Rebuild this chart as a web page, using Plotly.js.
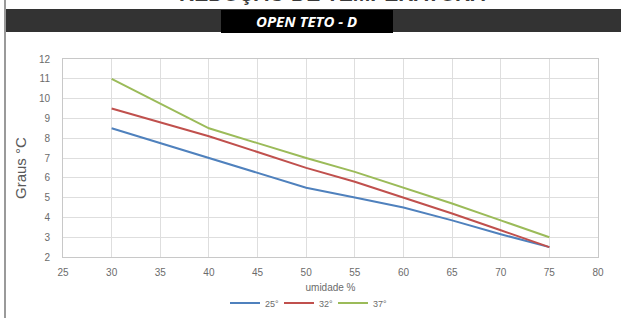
<!DOCTYPE html>
<html>
<head>
<meta charset="utf-8">
<script src="https://cdn.plot.ly/plotly-3.0.1.min.js"></script>
<style>html,body{margin:0;padding:0;background:#fff;}#chart{width:621px;height:318px;}</style>
</head>
<body>
<div id="chart"></div>
<script>
// Data
const humidity = [30, 35, 40, 45, 50, 55, 60, 65, 70, 75];
const series25 = [8.5, 7.75, 7.0, 6.25, 5.5, 5.0, 4.5, 3.85, 3.15, 2.5];
const series32 = [9.5, 8.8, 8.1, 7.3, 6.5, 5.8, 5.0, 4.2, 3.35, 2.5];
const series37 = [11.0, 9.75, 8.5, 7.75, 7.0, 6.3, 5.5, 4.7, 3.85, 3.0];
const seriesNames = ['25°', '32°', '37°'];
const seriesColors = ['#4F81BD', '#C0504D', '#9BBB59'];
const xTicks = [25, 30, 35, 40, 45, 50, 55, 60, 65, 70, 75, 80];
const yTicks = [2, 3, 4, 5, 6, 7, 8, 9, 10, 11, 12];
const topTitle = 'REDUÇÃO DE TEMPERATURA';
const subTitle = 'OPEN TETO - D';
const yTitle = 'Graus °C';
const xTitle = 'umidade %';

const W = 621, H = 318;
const L = 63, R = 23, T = 59, B = 61;
const pw = W - L - R, ph = H - T - B;
const px = v => (v - L) / pw;          // pixel x -> paper
const py = v => (H - B - v) / ph;      // pixel y -> paper

const allSeries = [series25, series32, series37];
const traces = allSeries.map((s, i) => ({
  x: humidity, y: s, type: 'scatter', mode: 'lines', name: seriesNames[i],
  line: {color: seriesColors[i], width: 2}
}));

const narrow = 'Liberation Sans Narrow, Liberation Sans, Arial, sans-serif';
const tickFont = {family: narrow, size: 10, color: '#6b6b6b'};

const layout = {
  width: W, height: H,
  margin: {l: L, r: R, t: T, b: B, pad: 0, autoexpand: false},
  paper_bgcolor: '#ffffff', plot_bgcolor: '#ffffff',
  showlegend: true,
  legend: {orientation: 'h', x: px(306), xanchor: 'center', y: py(303), yanchor: 'middle',
    font: {family: narrow, size: 9, color: '#6b6b6b'},
    entrywidth: 9, entrywidthmode: 'pixels',
    itemwidth: 30, tracegroupgap: 0, bgcolor: 'rgba(0,0,0,0)'},
  xaxis: {range: [25, 80], tickvals: xTicks, ticktext: xTicks.map(String), automargin: false,
    showgrid: true, gridcolor: '#dedede', gridwidth: 1,
    showline: true, linecolor: '#c8c8c8', linewidth: 1, mirror: true,
    zeroline: false, ticks: '', tickfont: tickFont, ticklabelstandoff: 6,
    title: {text: xTitle, font: {family: narrow, size: 10, color: '#6b6b6b'}, standoff: 6}},
  yaxis: {range: [2, 12], tickvals: yTicks, ticktext: yTicks.map(String), automargin: false,
    showgrid: true, gridcolor: '#dedede', gridwidth: 1,
    showline: true, linecolor: '#c8c8c8', linewidth: 1, mirror: true,
    zeroline: false, ticks: '', tickfont: tickFont, ticklabelstandoff: 10},
  shapes: [
    {type: 'rect', xref: 'paper', yref: 'paper', x0: px(6), x1: px(625), y0: py(32), y1: py(9),
      fillcolor: '#333333', line: {width: 0}, layer: 'above'},
    {type: 'rect', xref: 'paper', yref: 'paper', x0: px(221), x1: px(393), y0: py(33), y1: py(10),
      fillcolor: '#000000', line: {width: 0}, layer: 'above'},
    {type: 'line', xref: 'paper', yref: 'paper', x0: px(5), x1: px(5), y0: py(330), y1: py(-10),
      line: {color: '#9a9a9a', width: 2}, layer: 'above'}
  ],
  annotations: [
    {text: '<b>' + topTitle + '</b>', xref: 'paper', yref: 'paper', x: px(332), y: py(-7),
      xanchor: 'center', yanchor: 'middle', showarrow: false,
      font: {family: 'Liberation Sans, Arial, sans-serif', size: 21, color: '#3a3a3a'}},
    {text: '<b><i>' + subTitle + '</i></b>', xref: 'paper', yref: 'paper', x: px(306), y: py(21),
      xanchor: 'center', yanchor: 'middle', showarrow: false,
      font: {family: 'Open Sans, sans-serif', size: 15, color: '#ffffff'}},
    {text: yTitle, xref: 'paper', yref: 'paper', x: px(20), y: py(168),
      xanchor: 'center', yanchor: 'middle', textangle: -90, showarrow: false,
      font: {family: 'Liberation Sans, Arial, sans-serif', size: 15, color: '#595959'}}
  ]
};

Plotly.newPlot('chart', traces, layout, {displayModeBar: false, staticPlot: true});
</script>
</body>
</html>
